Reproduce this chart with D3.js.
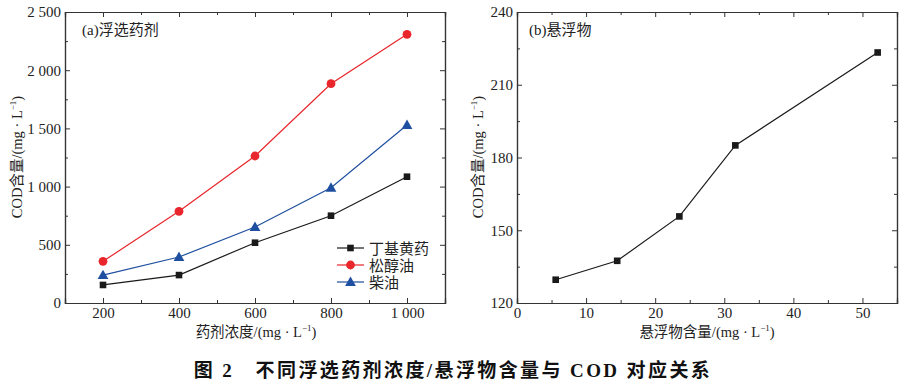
<!DOCTYPE html>
<html><head><meta charset="utf-8">
<script src="https://cdn.jsdelivr.net/npm/d3@7"></script>
<style>body{margin:0;background:#fff}svg{display:block}
.tick text{font-family:'Liberation Serif','Times New Roman',serif !important;font-size:15px;fill:#222}</style>
</head><body>
<svg id="c" width="909" height="383"></svg>
<script>
// Panel (a)
const doseX = [200, 400, 600, 800, 1000];
const seriesNames = ["丁基黄药", "松醇油", "柴油"];
const xanthate = [155, 240, 518, 750, 1085];
const pineOil = [358, 788, 1263, 1884, 2308];
const diesel = [240, 395, 653, 990, 1529];
const aXTicks = [200, 400, 600, 800, 1000];
const aXTickLabels = ["200", "400", "600", "800", "1 000"];
const aYTicks = [0, 500, 1000, 1500, 2000, 2500];
const aYTickLabels = ["0", "500", "1 000", "1 500", "2 000", "2 500"];
// Panel (b)
const ssX = [5.6, 14.5, 23.5, 31.6, 52.2];
const ssCOD = [129.6, 137.4, 155.7, 185.0, 223.3];
const bXTicks = [0, 10, 20, 30, 40, 50];
const bXTickLabels = ["0", "10", "20", "30", "40", "50"];
const bYTicks = [120, 150, 180, 210, 240];
const bYTickLabels = ["120", "150", "180", "210", "240"];

const svg = d3.select("#c");
const serif = "'Liberation Serif','Times New Roman',serif";
const cjk = "'Liberation Serif','Noto Sans CJK SC',serif";

function frame(x, y, xt, xtl, xminor, yt, ytl, yminor) {
  const g = svg.append("g");
  const [x0, x1] = x.range(), [y0, y1] = y.range();
  const mk = (o) => g.append("g").attr("transform", o.t).call(o.a)
      .call(s => { s.attr("font-family", null).attr("font-size", null);
                   s.select(".domain").attr("stroke", "#333").attr("stroke-width", 1.2);
                   s.selectAll(".tick line").attr("stroke", "#333").attr("stroke-width", 1); });
  mk({t:`translate(0,${y0})`, a:d3.axisBottom(x).tickValues(xt).tickSize(-5).tickPadding(4).tickFormat((d,i)=>xtl[i])});
  mk({t:`translate(0,${y1})`, a:d3.axisTop(x).tickValues(xt).tickSize(-5).tickFormat("")});
  mk({t:`translate(${x0},0)`, a:d3.axisLeft(y).tickValues(yt).tickSize(-5).tickPadding(4).tickFormat((d,i)=>ytl[i])});
  mk({t:`translate(${x1},0)`, a:d3.axisRight(y).tickValues(yt).tickSize(-5).tickFormat("")});
  mk({t:`translate(0,${y0})`, a:d3.axisBottom(x).tickValues(xminor).tickSize(-3).tickFormat("")});
  mk({t:`translate(0,${y1})`, a:d3.axisTop(x).tickValues(xminor).tickSize(-3).tickFormat("")});
  mk({t:`translate(${x0},0)`, a:d3.axisLeft(y).tickValues(yminor).tickSize(-3).tickFormat("")});
  mk({t:`translate(${x1},0)`, a:d3.axisRight(y).tickValues(yminor).tickSize(-3).tickFormat("")});
  g.selectAll(".tick text").attr("font-family", serif).attr("font-size", 15).attr("fill", "#222");
  return g;
}

function unitLabel(g, text, x, y, rotate) {
  const t = g.append("text").attr("font-family", cjk).attr("font-size", 14.5).attr("fill", "#222")
    .attr("text-anchor", "middle");
  if (rotate) t.attr("transform", `translate(${x},${y}) rotate(-90)`);
  else t.attr("x", x).attr("y", y);
  t.append("tspan").text(text + "/(mg · L");
  t.append("tspan").attr("font-size", 9).attr("dy", -6).text("−1");
  t.append("tspan").attr("dy", 6).text(")");
}

// ---- Panel a
const xa = d3.scaleLinear().domain([100, 1100]).range([65, 445]);
const ya = d3.scaleLinear().domain([0, 2500]).range([303, 12]);
const ga = frame(xa, ya, aXTicks, aXTickLabels, [300, 500, 700, 900],
  aYTicks, aYTickLabels, [250, 750, 1250, 1750, 2250]);

const colors = ["#1a1a1a", "#e8262b", "#1f4fa0"];
const dataA = [xanthate, pineOil, diesel];
const line = d3.line();
function marker(g, type, cx, cy, color) {
  if (type === 0) g.append("rect").attr("x", cx-3.3).attr("y", cy-3.3).attr("width", 6.6).attr("height", 6.6).attr("fill", color);
  else if (type === 1) g.append("circle").attr("cx", cx).attr("cy", cy).attr("r", 4.4).attr("fill", color);
  else g.append("path").attr("d", d3.symbol(d3.symbolTriangle, 50)()).attr("transform", `translate(${cx},${cy+0.8})`).attr("fill", color);
}
dataA.forEach((vals, si) => {
  const pts = doseX.map((d, i) => [xa(d), ya(vals[i])]);
  ga.append("path").attr("d", line(pts)).attr("fill", "none").attr("stroke", colors[si]).attr("stroke-width", 1.2);
  pts.forEach(p => marker(ga, si, p[0], p[1], colors[si]));
});
// legend
seriesNames.forEach((n, i) => {
  const ly = 248 + i * 17;
  ga.append("line").attr("x1", 337).attr("x2", 364).attr("y1", ly).attr("y2", ly).attr("stroke", colors[i]).attr("stroke-width", 1.2);
  marker(ga, i, 350.5, ly, colors[i]);
  ga.append("text").attr("x", 369).attr("y", ly + 5.5).attr("font-family", cjk).attr("font-size", 15).attr("fill", "#222").text(n);
});
ga.append("text").attr("x", 82).attr("y", 35).attr("font-family", cjk).attr("font-size", 15).attr("fill", "#222").text("(a)浮选药剂");
unitLabel(ga, "药剂浓度", 256, 337, false);
unitLabel(ga, "COD含量", 22, 157, true);

// ---- Panel b
const xb = d3.scaleLinear().domain([0, 55]).range([517, 897]);
const yb = d3.scaleLinear().domain([120, 240]).range([303, 12]);
const gb = frame(xb, yb, bXTicks, bXTickLabels, [5, 15, 25, 35, 45, 55],
  bYTicks, bYTickLabels, [135, 165, 195, 225]);
const ptsB = ssX.map((d, i) => [xb(d), yb(ssCOD[i])]);
gb.append("path").attr("d", line(ptsB)).attr("fill", "none").attr("stroke", "#1a1a1a").attr("stroke-width", 1.2);
ptsB.forEach(p => marker(gb, 0, p[0], p[1], "#1a1a1a"));
gb.append("text").attr("x", 529).attr("y", 35).attr("font-family", cjk).attr("font-size", 15).attr("fill", "#222").text("(b)悬浮物");
unitLabel(gb, "悬浮物含量", 707, 337, false);
unitLabel(gb, "COD含量", 483, 157, true);

// caption
svg.append("text").attr("x", 453).attr("y", 377).attr("text-anchor", "middle")
  .attr("font-family", "'Liberation Serif','Noto Sans CJK SC',serif").attr("font-weight", "bold")
  .attr("font-size", 19).attr("letter-spacing", 2.4).attr("fill", "#111").attr("xml:space", "preserve")
  .text("图 2　不同浮选药剂浓度/悬浮物含量与 COD 对应关系");
</script>
</body></html>
